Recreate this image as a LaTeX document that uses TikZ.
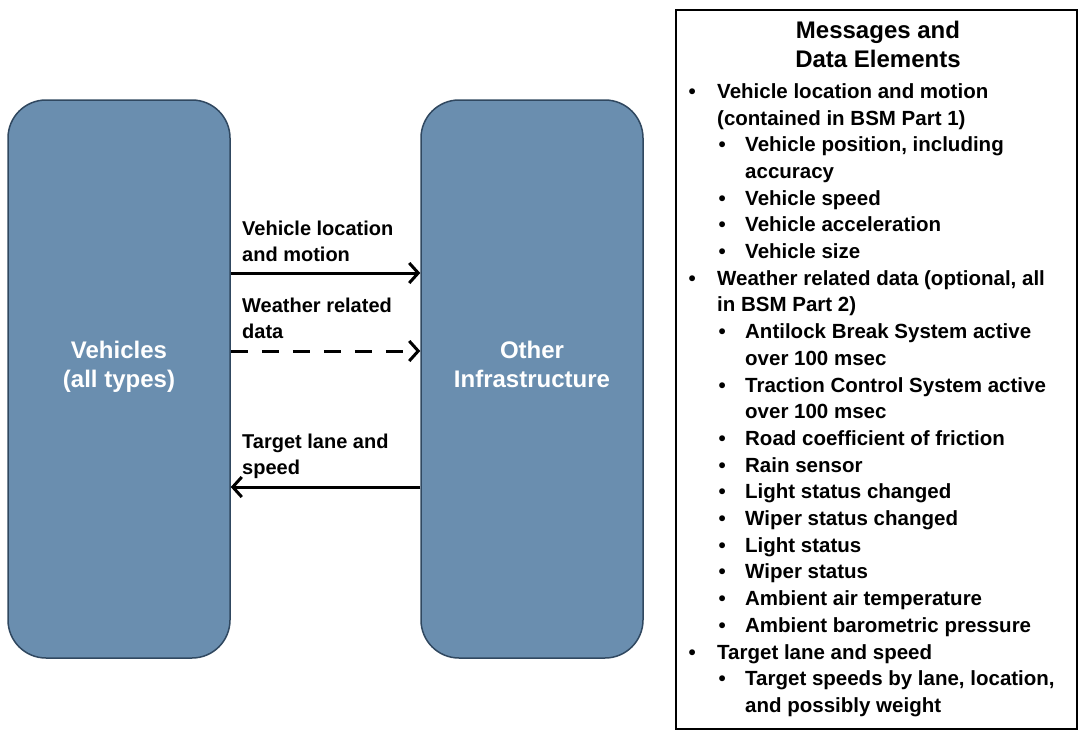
\documentclass[tikz,border=0pt]{standalone}
\usepackage{fontspec}
\setmainfont{Liberation Sans}
\usetikzlibrary{positioning,arrows.meta}

\definecolor{boxblue}{RGB}{106,142,175}
\definecolor{boxedge}{RGB}{48,72,96}

% list lines of the message box
\newcommand{\lvlone}[1]{\makebox[28.6pt][l]{\textbullet}#1}
\newcommand{\lvltwo}[1]{\hspace*{30pt}\makebox[26.6pt][l]{\textbullet}#1}
\newcommand{\contone}[1]{\hspace*{28.6pt}#1}
\newcommand{\conttwo}[1]{\hspace*{56.6pt}#1}

\tikzset{
  party/.style={draw=boxedge,line width=1.5pt,fill=boxblue,rounded corners=38pt,
    minimum width=222pt,minimum height=558pt,inner sep=0pt},
  partylabel/.style={anchor=north,text=white,align=center,inner sep=0pt,
    font=\fontsize{24}{29}\selectfont\bfseries},
  flowlabel/.style={anchor=north west,align=left,inner sep=0pt,
    font=\fontsize{20}{26.5}\selectfont\bfseries},
  flow/.style={line width=3pt,-{Straight Barb[length=9pt,width=20pt]}},
}

\begin{document}
\begin{tikzpicture}[x=1pt,y=-1pt]
  \useasboundingbox (0,0) rectangle (1081,736);

  % the two parties
  \node[party] (veh) at (119,379) {};
  \node[party] (infra) at (532,379) {};
  \node[partylabel] (vehtxt) at (119,340.8) {Vehicles\\(all types)};
  \node[partylabel] (infratxt) at (532,340.8) {Other\\Infrastructure};

  % messages between them
  \coordinate (ya) at (0,273);
  \coordinate (yb) at (0,351);
  \coordinate (yc) at (0,487);
  \draw[flow] (veh.east |- ya) -- (infra.west |- ya);
  \draw[flow,dash pattern=on 17pt off 14pt] (veh.east |- yb) -- (infra.west |- yb);
  \draw[flow] (infra.west |- yc) -- (veh.east |- yc);
  \node[flowlabel] (lblmotion) at (242,220.7) {Vehicle location\\and motion};
  \node[flowlabel] (lblweather) at (242,297.7) {Weather related\\data};
  \node[flowlabel] (lbllane) at (242,433.7) {Target lane and\\speed};

  % message and data elements
  \node[draw,line width=1.5pt,minimum width=401pt,minimum height=719pt,inner sep=0pt]
    (msgbox) at (876.5,369.5) {};
  \node[anchor=north,align=center,inner sep=0pt,font=\fontsize{24}{29}\selectfont\bfseries]
    (msgtitle) at (878,20.8) {Messages and\\Data Elements};
  \node[anchor=north west,align=left,inner sep=0pt,font=\fontsize{20.5}{26.7}\selectfont\bfseries]
    (msglist) at (688.4,83.3) {%
    \lvlone{Vehicle location and motion}\\
    \contone{(contained in BSM Part 1)}\\
    \lvltwo{Vehicle position, including}\\
    \conttwo{accuracy}\\
    \lvltwo{Vehicle speed}\\
    \lvltwo{Vehicle acceleration}\\
    \lvltwo{Vehicle size}\\
    \lvlone{Weather related data (optional, all}\\
    \contone{in BSM Part 2)}\\
    \lvltwo{Antilock Break System active}\\
    \conttwo{over 100 msec}\\
    \lvltwo{Traction Control System active}\\
    \conttwo{over 100 msec}\\
    \lvltwo{Road coefficient of friction}\\
    \lvltwo{Rain sensor}\\
    \lvltwo{Light status changed}\\
    \lvltwo{Wiper status changed}\\
    \lvltwo{Light status}\\
    \lvltwo{Wiper status}\\
    \lvltwo{Ambient air temperature}\\
    \lvltwo{Ambient barometric pressure}\\
    \lvlone{Target lane and speed}\\
    \lvltwo{Target speeds by lane, location,}\\
    \conttwo{and possibly weight}};
\end{tikzpicture}
\end{document}
